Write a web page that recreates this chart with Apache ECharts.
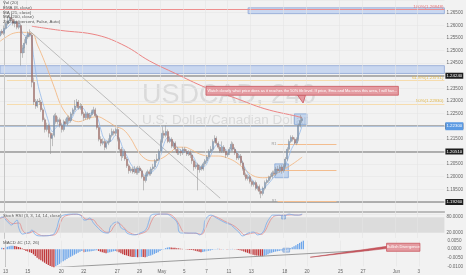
<!DOCTYPE html>
<html><head><meta charset="utf-8">
<script src="https://cdn.jsdelivr.net/npm/echarts@6/dist/echarts.min.js"></script>
<style>html,body{margin:0;padding:0;background:#f2f2f2}#c{width:466px;height:275px}</style>
</head><body><div id="c"></div><script>
// ---------- DATA ----------
const firstBar = -2; // bar index of first candle (0 = Apr 13 00:00, 6 bars per day)
// [open, close, low, high]
const candles = [
[1.2557,1.2576,1.2549,1.2584],[1.2576,1.2568,1.2561,1.2584],
[1.2568,1.2588,1.2561,1.2599],[1.2588,1.2607,1.2584,1.2615],[1.2607,1.2619,1.2599,1.2631],[1.2619,1.2631,1.2615,1.2646],[1.2631,1.2623,1.2615,1.2646],
[1.2623,1.2607,1.2599,1.2627],[1.2607,1.2615,1.2592,1.2623],[1.2615,1.2592,1.2584,1.2619],[1.2592,1.2599,1.2584,1.2607],[1.2599,1.2490,1.2440,1.2607],
[1.2490,1.2510,1.2471,1.2522],[1.2510,1.2529,1.2490,1.2545],[1.2529,1.2553,1.2522,1.2561],[1.2553,1.2568,1.2545,1.2576],[1.2568,1.2561,1.2553,1.2584],
[1.2561,1.2374,1.2354,1.2568],[1.2374,1.2296,1.2284,1.2393],[1.2296,1.2280,1.2269,1.2308],[1.2280,1.2300,1.2273,1.2308],[1.2300,1.2296,1.2284,1.2312],
[1.2296,1.2265,1.2257,1.2304],[1.2265,1.2226,1.2218,1.2273],[1.2226,1.2187,1.2175,1.2234],[1.2187,1.2203,1.2179,1.2214],[1.2203,1.2172,1.2156,1.2210],
[1.2172,1.2152,1.2090,1.2179],[1.2152,1.2164,1.2121,1.2172],[1.2164,1.2242,1.2156,1.2249],[1.2242,1.2218,1.2210,1.2253],[1.2218,1.2226,1.2207,1.2238],
[1.2226,1.2203,1.2195,1.2234],[1.2203,1.2187,1.2175,1.2214],[1.2187,1.2218,1.2179,1.2226],[1.2218,1.2210,1.2203,1.2230],[1.2210,1.2234,1.2203,1.2242],
[1.2234,1.2222,1.2214,1.2242],[1.2222,1.2249,1.2214,1.2257],[1.2249,1.2265,1.2242,1.2273],[1.2265,1.2280,1.2257,1.2304],[1.2280,1.2296,1.2273,1.2308],
[1.2296,1.2273,1.2265,1.2304],[1.2273,1.2280,1.2265,1.2292],[1.2280,1.2249,1.2242,1.2288],[1.2249,1.2234,1.2222,1.2257],[1.2234,1.2249,1.2226,1.2257],
[1.2249,1.2234,1.2226,1.2257],[1.2234,1.2245,1.2226,1.2253],[1.2245,1.2257,1.2238,1.2265],[1.2257,1.2265,1.2249,1.2277],[1.2265,1.2242,1.2234,1.2273],
[1.2242,1.2195,1.2187,1.2249],[1.2195,1.2148,1.2140,1.2203],[1.2148,1.2133,1.2121,1.2160],[1.2133,1.2140,1.2125,1.2152],[1.2140,1.2117,1.2105,1.2148],
[1.2117,1.2133,1.2109,1.2140],[1.2133,1.2140,1.2125,1.2152],[1.2140,1.2164,1.2133,1.2172],[1.2164,1.2179,1.2156,1.2191],[1.2179,1.2172,1.2164,1.2187],
[1.2172,1.2187,1.2164,1.2195],[1.2187,1.2148,1.2140,1.2195],[1.2148,1.2109,1.2101,1.2156],[1.2109,1.2082,1.2063,1.2117],[1.2082,1.2101,1.2074,1.2109],
[1.2101,1.2070,1.2063,1.2109],[1.2070,1.2043,1.2035,1.2078],[1.2043,1.2024,1.2012,1.2051],[1.2024,1.2031,1.2016,1.2039],[1.2031,1.2020,1.2012,1.2039],
[1.2020,1.2031,1.2012,1.2043],[1.2031,1.2016,1.2008,1.2039],[1.2016,1.2035,1.2008,1.2043],[1.2035,1.2024,1.2016,1.2043],[1.2024,1.2000,1.1993,1.2031],
[1.2000,1.1985,1.1946,1.2008],[1.1985,1.2008,1.1977,1.2016],[1.2008,1.2020,1.2000,1.2028],[1.2020,1.2012,1.2004,1.2028],[1.2012,1.2031,1.2004,1.2039],
[1.2031,1.2039,1.2024,1.2051],[1.2039,1.2063,1.2031,1.2070],[1.2063,1.2070,1.2055,1.2090],[1.2070,1.2101,1.2063,1.2109],[1.2101,1.2140,1.2094,1.2148],
[1.2140,1.2172,1.2133,1.2199],[1.2172,1.2164,1.2152,1.2183],[1.2164,1.2179,1.2156,1.2203],[1.2179,1.2140,1.2133,1.2187],[1.2140,1.2148,1.2133,1.2160],
[1.2148,1.2121,1.2113,1.2156],[1.2121,1.2133,1.2113,1.2140],[1.2133,1.2109,1.2101,1.2140],[1.2109,1.2094,1.2086,1.2117],[1.2094,1.2101,1.2086,1.2109],
[1.2101,1.2094,1.2082,1.2109],[1.2094,1.2109,1.2086,1.2117],[1.2109,1.2101,1.2094,1.2117],[1.2101,1.2090,1.2082,1.2109],[1.2090,1.2098,1.2082,1.2105],
[1.2098,1.2086,1.2074,1.2105],[1.2086,1.2063,1.2051,1.2094],[1.2063,1.2039,1.2024,1.2070],[1.2039,1.2047,1.2031,1.2059],[1.2047,1.2028,1.1946,1.2055],
[1.2028,1.2039,1.2016,1.2047],[1.2039,1.2031,1.2024,1.2047],[1.2031,1.2051,1.2024,1.2059],[1.2051,1.2063,1.2043,1.2070],[1.2063,1.2078,1.2055,1.2086],
[1.2078,1.2101,1.2070,1.2109],[1.2101,1.2109,1.2094,1.2121],[1.2109,1.2140,1.2101,1.2148],[1.2140,1.2152,1.2133,1.2164],[1.2152,1.2133,1.2125,1.2160],
[1.2133,1.2117,1.2109,1.2140],[1.2117,1.2101,1.2094,1.2125],[1.2101,1.2117,1.2094,1.2140],[1.2117,1.2101,1.2094,1.2125],[1.2101,1.2086,1.2074,1.2109],
[1.2086,1.2094,1.2078,1.2101],[1.2094,1.2109,1.2086,1.2117],[1.2109,1.2129,1.2101,1.2140],[1.2129,1.2109,1.2101,1.2136],[1.2109,1.2094,1.2086,1.2117],
[1.2094,1.2074,1.2066,1.2101],[1.2074,1.2082,1.2066,1.2090],[1.2082,1.2055,1.2047,1.2090],[1.2055,1.2031,1.2024,1.2063],[1.2031,1.2008,1.2000,1.2039],
[1.2008,1.1993,1.1985,1.2016],[1.1993,1.2000,1.1985,1.2008],[1.2000,1.1981,1.1973,1.2008],[1.1981,1.1969,1.1961,1.1989],[1.1969,1.1977,1.1961,1.1985],
[1.1977,1.1954,1.1946,1.1985],[1.1954,1.1961,1.1946,1.1969],[1.1961,1.1942,1.1930,1.1969],[1.1942,1.1934,1.1915,1.1950],[1.1934,1.1954,1.1926,1.1961],
[1.1954,1.1977,1.1946,1.1985],[1.1977,1.1985,1.1969,1.1993],[1.1985,1.1996,1.1977,1.2004],[1.1996,1.2000,1.1989,1.2012],[1.2000,1.2016,1.1993,1.2024],
[1.2016,1.2012,1.2004,1.2024],[1.2012,1.2031,1.2004,1.2039],[1.2031,1.2024,1.2016,1.2043],[1.2024,1.2039,1.2016,1.2047],[1.2039,1.2024,1.2012,1.2047],
[1.2024,1.2043,1.2016,1.2051],[1.2043,1.2070,1.2035,1.2078],[1.2070,1.2109,1.2063,1.2117],[1.2109,1.2140,1.2101,1.2148],[1.2140,1.2156,1.2133,1.2164],
[1.2156,1.2148,1.2140,1.2164],[1.2148,1.2133,1.2129,1.2156],[1.2133,1.2148,1.2125,1.2156],[1.2148,1.2203,1.2140,1.2210],[1.2203,1.2222,1.2195,1.2245],
[1.2222,1.2230,1.2214,1.2238]
];
// moving averages: [barIndex, price]
const ema8 = [[-2,1.2568],[2,1.2592],[5,1.2611],[8,1.2607],[10,1.2568],[12,1.2557],[14,1.2561],[16,1.2471],[18,1.2374],[20,1.2315],[22,1.2265],[24,1.2218],[26,1.2179],[28,1.2195],[30,1.2207],[33,1.2203],[36,1.2226],[39,1.2265],[42,1.2273],[45,1.2249],[48,1.2253],[50,1.2238],[52,1.2187],[54,1.2148],[57,1.2140],[60,1.2164],[62,1.2148],[64,1.2109],[66,1.2082],[68,1.2051],[70,1.2035],[73,1.2028],[76,1.2004],[79,1.2016],[82,1.2039],[84,1.2082],[86,1.2133],[88,1.2156],[90,1.2144],[93,1.2117],[96,1.2101],[100,1.2094],[102,1.2074],[104,1.2047],[107,1.2039],[110,1.2070],[113,1.2117],[115,1.2129],[118,1.2113],[121,1.2101],[123,1.2113],[125,1.2098],[127,1.2074],[129,1.2039],[131,1.2012],[133,1.1989],[135,1.1969],[138,1.1950],[140,1.1958],[142,1.1973],[145,1.2000],[148,1.2024],[150,1.2031],[152,1.2063],[154,1.2105],[156,1.2133],[158,1.2160],[160,1.2203]];
const ma21 = [[-2,1.2537],[2,1.2557],[5,1.2568],[9,1.2572],[15,1.2568],[18,1.2522],[22,1.2452],[27,1.2354],[31,1.2277],[36,1.2230],[40,1.2218],[45,1.2230],[50,1.2238],[55,1.2222],[60,1.2199],[64,1.2187],[68,1.2152],[72,1.2101],[76,1.2070],[80,1.2063],[85,1.2074],[90,1.2101],[93,1.2117],[97,1.2117],[100,1.2109],[105,1.2090],[110,1.2082],[115,1.2082],[120,1.2074],[125,1.2055],[130,1.2024],[135,1.2000],[140,1.1996],[145,1.2008],[149,1.2024],[155,1.2051],[160,1.2078]];
const ma200 = [[15,1.2596],[30,1.2580],[50,1.2561],[65,1.2518],[78,1.2459],[92,1.2409],[108,1.2354],[124,1.2312],[140,1.2269],[158,1.2238],[160,1.2234]];
const trendline = [[14,1.2576],[116,1.1915]];
// stoch RSI %K and %D: [barIndex, value]
const stochK = [[-2,77],[-1,81],[2,62],[4,50],[7,69],[8,38],[10,15],[12,19],[14,23],[15,31],[17,12],[20,8],[26,12],[28,31],[30,77],[32,88],[38,92],[41,88],[43,69],[44,69],[46,77],[48,58],[50,42],[53,23],[56,19],[57,42],[59,58],[61,62],[63,38],[65,31],[66,19],[70,12],[73,19],[76,31],[78,69],[79,88],[82,92],[87,92],[90,81],[93,58],[94,23],[96,19],[100,19],[103,19],[105,12],[107,31],[108,69],[111,88],[114,77],[116,69],[119,58],[122,50],[123,42],[126,23],[128,8],[131,19],[134,23],[136,12],[139,23],[141,58],[143,81],[144,88],[148,88],[150,85],[153,92],[156,88],[158,88],[160,92]];
const stochD = [[-2,75],[0,80],[3,62],[5,55],[8,58],[10,30],[12,18],[14,20],[16,26],[18,16],[21,9],[27,12],[29,30],[31,70],[33,85],[39,91],[42,85],[44,72],[46,72],[48,70],[50,52],[52,38],[55,22],[57,24],[59,45],[61,58],[63,50],[65,35],[67,22],[71,13],[74,18],[77,30],[79,62],[81,85],[84,92],[88,92],[91,82],[94,52],[96,25],[98,19],[103,18],[106,14],[108,35],[110,68],[112,85],[115,78],[118,66],[121,56],[124,44],[127,25],[129,12],[132,17],[135,20],[138,14],[140,26],[142,55],[144,78],[146,86],[149,87],[152,88],[155,89],[158,88],[160,90]];
// MACD histogram, one value per candle
const macdHist = [0.0008,0.0006,
0.0010,0.0014,0.0018,0.0020,0.0021,0.0019,0.0016,0.0013,0.0010,0.0004,
-0.0004,-0.0010,-0.0014,-0.0018,-0.0022,-0.0030,-0.0040,-0.0050,-0.0058,-0.0065,
-0.0072,-0.0079,-0.0086,-0.0092,-0.0098,-0.0103,-0.0106,-0.0100,-0.0093,-0.0086,
-0.0078,-0.0071,-0.0064,-0.0057,-0.0050,-0.0044,-0.0038,-0.0032,-0.0026,-0.0020,
-0.0015,-0.0011,-0.0018,-0.0016,-0.0014,-0.0013,-0.0012,-0.0010,-0.0008,-0.0006,
-0.0010,-0.0014,-0.0018,-0.0021,-0.0023,-0.0020,-0.0018,-0.0015,-0.0012,-0.0011,
-0.0013,-0.0018,-0.0024,-0.0030,-0.0034,-0.0036,-0.0040,-0.0043,-0.0045,-0.0046,
-0.0045,-0.0047,-0.0046,-0.0045,-0.0046,-0.0047,-0.0044,-0.0040,-0.0036,-0.0032,
-0.0027,-0.0022,-0.0017,-0.0011,-0.0005,0.0001,0.0006,0.0010,0.0011,0.0010,
0.0009,0.0008,0.0006,0.0005,0.0003,0.0002,0.0000,-0.0002,-0.0003,-0.0004,
-0.0005,-0.0006,-0.0009,-0.0012,-0.0015,-0.0017,-0.0016,-0.0014,-0.0012,-0.0009,
-0.0007,-0.0004,-0.0002,0.0002,0.0003,0.0002,0.0001,0.0001,0.0000,-0.0001,
-0.0001,0.0001,0.0002,0.0001,-0.0001,-0.0004,-0.0006,-0.0009,-0.0013,-0.0017,
-0.0021,-0.0025,-0.0029,-0.0032,-0.0035,-0.0037,-0.0038,-0.0040,-0.0041,-0.0038,
-0.0034,-0.0029,-0.0024,-0.0020,-0.0017,-0.0014,-0.0012,-0.0010,-0.0008,-0.0008,
-0.0006,-0.0003,0.0001,0.0006,0.0012,0.0018,0.0024,0.0030,0.0037,0.0044,0.0050];
// x-axis tick labels (bar index of each labelled day)
const xTicks = [0,12,30,42,60,72,84,96,108,120,132,150,162,180,192,210,222];
const xTickLabels = ['13','15','20','22','27','29','May','5','7','11','13','18','20','25','27','Jun','3'];
// levels and drawings
const fib = [{p:1.2663,t:'100%(1.26848)',c:'#ee8e8e',tc:'#e57373',from:-2.1},{p:1.2382,t:'61.8%(1.23751)',c:'#f6dcae',tc:'#e3b84a',from:1.6},{p:1.2289,t:'50%(1.22930)',c:'#f6dcae',tc:'#e3b84a',from:1.6}];
const srLevels = [1.2424,1.2199,1.2051,1.1926];
const topBand = [131,1.2669,1.2646];
const midBand = [1.2440,1.2409];
const pivots = [{p:1.2129,t:'R1'},{p:1.2024,t:'P'},{p:1.1903,t:'S1'}];
const pivotSpan = [146.8,178.4];
const boxMain1 = [[145.3,1.2051],[152.6,1.1996]];
const boxMain2 = [[155.8,1.2249],[162.6,1.2207]];
const boxStoch = [[149,88],[151,73]];
const boxMacd = [[149,0.0006],[152.6,-0.0017]];
const calloutBox = [[108.4,1.2358],[211.6,1.2323]];
const calloutTail = [[157.5,1.2323],[160.5,1.2292],[161.8,1.2323]];
const calloutText = 'Watch closely what price does as it reaches the 50% fib level. If price, Ema and Ma cross this area, I will have a bullish bias.';
const divLine = [[25.3,-0.0108],[195.3,-0.0006]];
const divBox = [[204.7,0.0035],[222.6,-0.0012]];
const divWedge = [[163.7,-0.0047],[204.7,0.0017],[204.7,0.0004]];
const divText = 'Bullish Divergence';
const legendLines = ['Vol (20)','EMA (8, close)','MA (21, close)','MA (200, close)','ZigZag (percent, False, Auto)'];

// ---------- CHART ----------
const X_MIN = -2.105, X_MAX = 236.3;
const lastClose = candles[candles.length-1][1];
const candleData = candles.map((c,k)=>[firstBar+k, c[0], c[1], c[2], c[3]]);
const histData = macdHist.map((v,k)=>{
  const prev = k>0 ? macdHist[k-1] : v;
  return {value:[firstBar+k, v], itemStyle:{color: v>=prev ? '#6ea6ea' : '#c0393b'}};
});
const fs = 4.6;
function xAx(g, extra){ return Object.assign({gridIndex:g,type:'value',min:X_MIN,max:X_MAX,axisLine:{show:false},axisTick:{show:false},axisLabel:{show:false},splitLine:{show:false}}, extra||{}); }
const vgrid = xTicks.map(t=>({xAxis:t}));
const vgridML = {silent:true,symbol:'none',lineStyle:{color:'#e4e4e4',width:0.6,type:'solid'},label:{show:false},data:vgrid};

const chart = echarts.init(document.getElementById('c'));
chart.setOption({
  animation:false,
  backgroundColor:'#f2f2f2',
  textStyle:{fontFamily:'Liberation Sans, Arial, sans-serif'},
  grid:[
    {left:0,right:13,top:-3.9,height:218.5},
    {left:0,right:13,top:212,height:26},
    {left:0,right:13,top:240.7,height:25.6}
  ],
  xAxis:[
    xAx(0),
    xAx(1,{position:'top',axisLine:{show:true,onZero:false,lineStyle:{color:'#a9a9a9',width:1.5}}}),
    xAx(2,{axisLabel:{show:true,customValues:xTicks,fontSize:fs,color:'#666',margin:3,
      formatter:v=>{const k=xTicks.indexOf(Math.round(v));return k>=0?xTickLabels[k]:'';}}})
  ],
  yAxis:[
    {gridIndex:0,type:'value',position:'right',min:1.185,max:1.27,interval:0.005,
     axisLine:{show:true,lineStyle:{color:'#9a9a9a'}},axisTick:{show:false},
     axisLabel:{fontSize:fs,color:'#666',margin:2,showMinLabel:false,showMaxLabel:false,formatter:v=>v.toFixed(5)},
     splitLine:{lineStyle:{color:'#e6e6e6',width:0.6}}},
    {gridIndex:1,type:'value',position:'right',min:0,max:100,interval:20,
     axisLine:{show:true,lineStyle:{color:'#9a9a9a'}},axisTick:{show:false},
     axisLabel:{fontSize:fs,color:'#666',margin:2,formatter:v=>(v===80||v===20)?v.toFixed(4):''},splitLine:{show:false}},
    {gridIndex:2,type:'value',position:'right',min:-0.01,max:0.005,interval:0.005,
     axisLine:{show:true,lineStyle:{color:'#9a9a9a'}},axisTick:{show:false},
     axisLabel:{fontSize:fs,color:'#666',margin:2,formatter:v=>v.toFixed(4)},splitLine:{show:false}}
  ],
  graphic:[
    {type:'text',left:142,top:82,z:0,silent:true,style:{text:'USDCAD, 240',fontSize:27,fill:'#dadada',fontFamily:'Liberation Sans'}},
    {type:'text',left:142,top:113,z:0,silent:true,style:{text:'U.S. Dollar/Canadian Dollar',fontSize:13.5,fill:'#dadada',fontFamily:'Liberation Sans'}},
    ...legendLines.map((t,k)=>({type:'text',left:3,top:1+k*4.7,z:10,silent:true,style:{text:t,fontSize:4.4,fill:'#555'}})),
    {type:'text',left:3,top:213.5,z:10,silent:true,style:{text:'Stoch RSI (3, 3, 14, 14, close)',fontSize:4.4,fill:'#555'}},
    {type:'text',left:3,top:241,z:10,silent:true,style:{text:'MACD 4C (12, 26)',fontSize:4.4,fill:'#555'}}
  ],
  series:[
    {type:'line',xAxisIndex:0,yAxisIndex:0,data:[],markLine:vgridML,z:1},
    {type:'line',xAxisIndex:1,yAxisIndex:1,data:[],markLine:vgridML,z:1,
     markArea:{silent:true,itemStyle:{color:'#dcdcdc'},data:[[{yAxis:80},{yAxis:20}]]}},
    {type:'line',xAxisIndex:2,yAxisIndex:2,data:[],markLine:vgridML,z:1},
    {type:'candlestick',xAxisIndex:0,yAxisIndex:0,data:candleData,barWidth:1.5,z:5,
     itemStyle:{color:'#5b9ae3',color0:'#c0392b',borderColor:'#8c8c8c',borderColor0:'#8c8c8c',borderWidth:0.5},
     markArea:{silent:true,z:2,data:[
       [{xAxis:topBand[0],yAxis:topBand[1],itemStyle:{color:'#c9d7f0',borderColor:'#8ea6d4',borderWidth:0.8}},{xAxis:X_MAX,yAxis:topBand[2]}],
       [{xAxis:X_MIN,yAxis:midBand[0],itemStyle:{color:'#c9d7f0',borderColor:'#8ea6d4',borderWidth:0.8}},{xAxis:X_MAX,yAxis:midBand[1]}],
       [{xAxis:boxMain1[0][0],yAxis:boxMain1[0][1],itemStyle:{color:'rgba(110,160,230,0.35)',borderColor:'#6d95d0',borderWidth:0.6}},{xAxis:boxMain1[1][0],yAxis:boxMain1[1][1]}],
       [{xAxis:boxMain2[0][0],yAxis:boxMain2[0][1],itemStyle:{color:'rgba(110,160,230,0.35)',borderColor:'#6d95d0',borderWidth:0.6}},{xAxis:boxMain2[1][0],yAxis:boxMain2[1][1]}]
     ]},
     markLine:{silent:true,symbol:'none',z:3,data:[
       ...fib.map(f=>[{coord:[f.from,f.p],lineStyle:{color:f.c,width:1,type:'solid'},label:{show:true,position:'insideEndTop',formatter:f.t,color:f.tc,fontSize:4.4,distance:[1,0.5]}},{coord:[X_MAX,f.p]}]),
       ...srLevels.map(p=>({yAxis:p,lineStyle:{color:'#999',width:1.6,type:'solid'},label:{show:true,position:'end',distance:1,formatter:p.toFixed(5),backgroundColor:'#1e1e1e',color:'#fff',fontSize:4.4,padding:[1,1]}})),
       {yAxis:lastClose,lineStyle:{color:'#b3cdef',width:0.7,type:'solid'},label:{show:true,position:'end',distance:1,formatter:lastClose.toFixed(5),backgroundColor:'#5b9ae3',color:'#fff',fontSize:4.4,padding:[2,1]}},
       ...pivots.map(pv=>[{coord:[pivotSpan[0],pv.p],lineStyle:{color:'#f3bd8f',width:1,type:'solid'},label:{show:true,position:'start',formatter:pv.t,color:'#999',fontSize:4,distance:1}},{coord:[pivotSpan[1],pv.p]}])
     ]}},
    {type:'line',xAxisIndex:0,yAxisIndex:0,data:ma200,smooth:0.4,symbol:'none',z:4,lineStyle:{color:'#ec8484',width:1}},
    {type:'line',xAxisIndex:0,yAxisIndex:0,data:ma21,smooth:0.4,symbol:'none',z:4,lineStyle:{color:'#f2b27a',width:0.8}},
    {type:'line',xAxisIndex:0,yAxisIndex:0,data:ema8,smooth:0.4,symbol:'none',z:4,lineStyle:{color:'#93b9ea',width:0.8}},
    {type:'line',xAxisIndex:0,yAxisIndex:0,data:trendline,symbol:'none',z:4,lineStyle:{color:'#a5a5a5',width:0.7}},
    {type:'custom',xAxisIndex:0,yAxisIndex:0,data:[[0,1.2]],clip:false,z:8,silent:true,
     renderItem:(p,api)=>({type:'group',children:[
       {type:'polygon',shape:{points:calloutTail.map(q=>api.coord(q))},style:{fill:'#e49ba1',stroke:'#c9575f',lineWidth:0.8}}
     ]})},
    {type:'line',xAxisIndex:0,yAxisIndex:0,data:[],z:9,
     markArea:{silent:true,z:9,data:[[{xAxis:calloutBox[0][0],yAxis:calloutBox[0][1],itemStyle:{color:'#e49ba1',borderColor:'#c9575f',borderWidth:0.8},
       label:{show:true,position:'inside',formatter:calloutText,color:'#fff',fontSize:3.9,overflow:'truncate',width:192}},{xAxis:calloutBox[1][0],yAxis:calloutBox[1][1]}]]}},
    // stoch
    {type:'line',xAxisIndex:1,yAxisIndex:1,data:stochD,smooth:0.4,symbol:'none',z:4,lineStyle:{color:'#e38b8b',width:0.8}},
    {type:'line',xAxisIndex:1,yAxisIndex:1,data:stochK,smooth:0.4,symbol:'none',z:4,lineStyle:{color:'#79acec',width:0.8},
     markArea:{silent:true,data:[[{xAxis:boxStoch[0][0],yAxis:boxStoch[0][1],itemStyle:{color:'rgba(110,160,230,0.35)',borderColor:'#6d95d0',borderWidth:0.6}},{xAxis:boxStoch[1][0],yAxis:boxStoch[1][1]}]]}},
    // macd
    {type:'bar',xAxisIndex:2,yAxisIndex:2,data:histData,barWidth:1.3,clip:false,z:4,
     markLine:{silent:true,symbol:'none',data:[{yAxis:macdHist[macdHist.length-1],lineStyle:{color:'#4f86e0',width:1,type:'dotted'},label:{show:false}}]},
     markArea:{silent:true,data:[[{xAxis:boxMacd[0][0],yAxis:boxMacd[0][1],itemStyle:{color:'rgba(110,160,230,0.35)',borderColor:'#6d95d0',borderWidth:0.6}},{xAxis:boxMacd[1][0],yAxis:boxMacd[1][1]}]]}},
    {type:'line',xAxisIndex:2,yAxisIndex:2,data:divLine,symbol:'none',z:5,lineStyle:{color:'#9a9a9a',width:1}},
    {type:'custom',xAxisIndex:2,yAxisIndex:2,data:[[0,0]],clip:false,z:8,silent:true,
     renderItem:(p,api)=>({type:'polygon',shape:{points:divWedge.map(q=>api.coord(q))},style:{fill:'#c9575f',stroke:'#b8474f',lineWidth:0.5}})},
    {type:'line',xAxisIndex:2,yAxisIndex:2,data:[],z:9,
     markArea:{silent:true,z:9,data:[[{xAxis:divBox[0][0],yAxis:divBox[0][1],itemStyle:{color:'#e49ba1',borderColor:'#c9575f',borderWidth:0.8},
       label:{show:true,position:'inside',formatter:divText,color:'#fff',fontSize:4}},{xAxis:divBox[1][0],yAxis:divBox[1][1]}]]}}
  ]
});
</script></body></html>
